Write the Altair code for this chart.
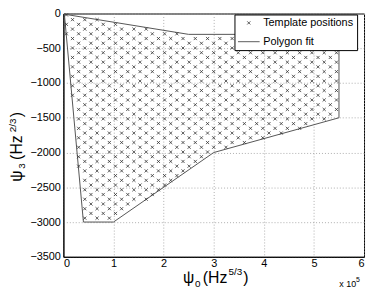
import altair as alt
import pandas as pd

# ---- data ----
# Polygon fit vertices (psi0 in Hz^(5/3), psi3 in Hz^(2/3))
poly_psi0 = [2000, 250000, 550000, 550000, 300000, 100000, 40000, 2000]
poly_psi3 = [-10, -300, -300, -1500, -2000, -3000, -3000, -10]

# Template lattice (staggered rows)
lattice_row_step = 68.0       # psi3 spacing between rows
lattice_col_step = 24500.0    # psi0 spacing along a row
lattice_row_shift = 12250.0   # offset of every other row
lattice_origin_psi0 = 6000.0
lattice_origin_psi3 = -20.0

x_ticks = [0, 100000, 200000, 300000, 400000, 500000, 600000]
y_ticks = [-3500, -3000, -2500, -2000, -1500, -1000, -500, 0]
series = ["Template positions", "Polygon fit"]


def inside(px, py, xs, ys):
    res = False
    n = len(xs)
    j = n - 1
    for i in range(n):
        if (ys[i] > py) != (ys[j] > py):
            xi = xs[i] + (py - ys[i]) * (xs[j] - xs[i]) / (ys[j] - ys[i])
            if px < xi:
                res = not res
        j = i
    return res


tx, ty = [], []
j = 0
while True:
    yv = lattice_origin_psi3 - j * lattice_row_step
    if yv < -3010:
        break
    xv = lattice_origin_psi0 + (j % 2) * lattice_row_shift
    while xv <= 551000:
        if inside(xv, yv, poly_psi0, poly_psi3):
            tx.append(xv)
            ty.append(yv)
        xv += lattice_col_step
    j += 1

tmpl = pd.DataFrame({"psi0": tx, "psi3": ty, "series": series[0]})
poly = pd.DataFrame({"psi0": poly_psi0, "psi3": poly_psi3,
                     "k": list(range(len(poly_psi0))), "series": series[1]})

W, H = 304, 246
XPATH = "M-1,-1L1,1M1,-1L-1,1"
FONT = "Liberation Sans"

xs = alt.Scale(domain=[0, 600000], nice=False, zero=False)
ys = alt.Scale(domain=[-3500, 0], nice=False, zero=False)

xaxis = alt.Axis(values=x_ticks, labelExpr="format(datum.value/100000,'d')",
                 title=None, grid=True, ticks=False, labelPadding=1,
                 labelOverlap=False)
yaxis = alt.Axis(values=y_ticks, labelExpr="format(datum.value,'d')", title=None,
                 grid=True, ticks=False, labelPadding=3, labelOverlap=False,
                 labelBound=False, labelFlush=False)

leg = alt.Legend(title=None, orient="none", legendX=173, legendY=1,
                 fillColor="white", strokeColor="black", padding=3,
                 labelFont=FONT, labelFontSize=11, labelColor="black",
                 labelOffset=3, rowPadding=2, symbolStrokeWidth=0.8,
                 symbolStrokeColor="#333", symbolFillColor="transparent")

line = alt.Chart(poly).mark_line(color="#555", strokeWidth=1).encode(
    x=alt.X("psi0:Q", scale=xs, axis=xaxis),
    y=alt.Y("psi3:Q", scale=ys, axis=yaxis),
    order="k:Q",
)

points = alt.Chart(tmpl).mark_point(filled=False, strokeWidth=0.8, color="#333",
                                    opacity=1).encode(
    x=alt.X("psi0:Q", scale=xs, axis=xaxis),
    y=alt.Y("psi3:Q", scale=ys, axis=yaxis),
    shape=alt.Shape("series:N", scale=alt.Scale(domain=series, range=[XPATH, "stroke"]),
                    legend=leg),
    size=alt.Size("series:N", scale=alt.Scale(domain=series, range=[10, 480]),
                  legend=leg),
)

one = pd.DataFrame({"d": [0]})


def txt(s, x, y, size, angle=0):
    return alt.Chart(one).mark_text(text=s, font=FONT, fontSize=size, align="left",
                                    baseline="alphabetic", angle=angle,
                                    color="black").encode(
        x=alt.value(x), y=alt.value(y))


# plot origin on page: (64, 12)
labels = [
    txt("ψ", 121, 273, 16),
    txt("0", 133, 277, 10),
    txt("(Hz", 141, 273, 16),
    txt("5/3", 167, 264, 10),
    txt(")", 182, 273, 16),
    txt("ψ", -42, 170, 16, 270),
    txt("3", -39, 157, 10, 270),
    txt("(Hz", -42, 148, 16, 270),
    txt("2/3", -48, 120, 10, 270),
    txt(")", -42, 105, 16, 270),
    txt("x 10", 279, 277, 9),
    txt("5", 296, 271, 7),
]

chart = alt.layer(line, points, *labels).properties(
    width=W, height=H,
    autosize=alt.AutoSizeParams(type="none"),
    padding={"left": 56, "top": 4, "right": 2, "bottom": 32},
).configure_view(stroke="black", strokeWidth=1).configure_axis(
    domainColor="black", domainWidth=1, gridColor="#999", gridDash=[1, 2],
    gridWidth=0.8, labelFont=FONT, labelFontSize=11, labelColor="black",
    labelOverlap=False,
)

chart.save("out.html", embed_options={"renderer": "svg", "actions": False})
